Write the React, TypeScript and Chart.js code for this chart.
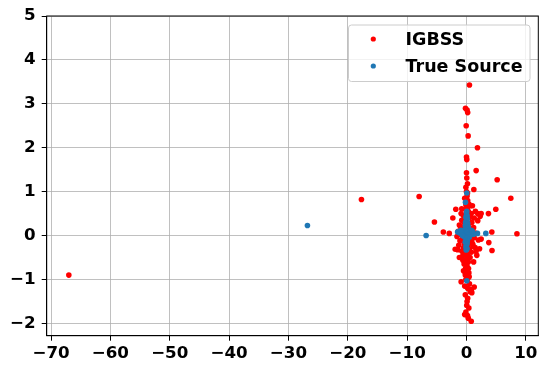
import React, { useEffect, useRef } from "react";
import { Chart, registerables } from "chart.js";

Chart.register(...registerables);

const seriesLabels = ["IGBSS", "True Source"];
const seriesColors = ["#ff0000", "#1f77b4"];

const xTicks = [-70, -60, -50, -40, -30, -20, -10, 0, 10];
const yTicks = [-2, -1, 0, 1, 2, 3, 4, 5];

const igbssPoints: [number, number][] = [
  [-67, -0.9], [-17.7, 0.82], [-7.98, 0.89], [7.47, 0.85], [5.17, 1.27], [8.5, 0.04],
  [4.94, 0.6], [3.7, 0.5], [-5.4, 0.31], [-3.9, 0.08], [-2.9, 0.05], [4.27, 0.08],
  [3.76, -0.16], [4.3, -0.34], [2.47, -0.08], [2.47, 0.5], [2.3, 0.44], [1.9, 0.34],
  [1.74, -0.45], [-1.9, -0.31], [-1.2, 0.24], [-0.8, 0.61], [1.0, 0.68], [0.62, 0.68],
  [0.5, 3.43], [-0.17, 2.9], [0.1, 2.86], [0.2, 2.8], [-0.05, 2.5], [0.28, 2.27],
  [1.85, 2.0], [0, 1.79], [0.05, 1.73], [1.63, 1.48], [0, 1.43], [0.05, 1.31],
  [0.17, 1.18], [1.24, 1.05], [0.17, 0.97],
  [-0.6, -0.56], [0.34, -0.75], [-0.9, -1.05], [1.3, -1.17], [0.6, -1.28], [0.2, -1.43],
  [0.05, -1.59], [-0.1, -1.74], [0.17, -1.82], [0.8, -1.95],
  [1.07, -0.2], [1.46, -0.27], [-0.17, -0.86], [0.45, -0.94], [0.84, -1.23],
  [-0.3, 0.85], [0.2, 0.8], [0.4, 0.72], [-0.2, 0.6], [0.3, 0.55], [-0.5, 0.45],
  [0.6, 0.42], [-0.8, 0.35], [0.9, 0.3], [-0.4, 0.3], [0.4, 0.25], [-1.0, 0.2],
  [1.2, 0.18], [-0.6, 0.15], [0.7, 0.12], [-1.4, 0.1], [1.5, 0.06], [-0.9, 0.02],
  [1.0, 0.0], [-1.6, -0.02], [1.3, -0.05], [-0.7, -0.08], [0.6, -0.1], [-1.1, -0.12],
  [0.9, -0.15], [-0.4, -0.18], [0.3, -0.2], [-1.3, -0.22], [1.1, -0.25], [-0.5, -0.28],
  [0.5, -0.3], [-0.8, -0.35], [0.8, -0.38], [-0.3, -0.4], [0.2, -0.42], [-1.5, -0.32],
  [1.6, -0.36], [-0.6, -0.45], [0.6, -0.5], [-0.2, -0.55], [0.3, -0.6], [-0.4, -0.65],
  [0.1, -0.7], [-0.5, -0.8], [0.4, -0.85], [-0.2, -0.9], [0.3, -0.95], [-0.1, -1.0],
  [0.5, -1.1], [-0.3, -1.15], [0.2, -1.2], [0.9, -1.3], [-0.2, -1.35], [0.1, -1.5],
  [0.4, -1.65], [-0.3, -1.8], [0.3, -1.88],
  [0, 0.4], [0.1, 0.5], [-0.1, 0.7], [0.2, 0.65], [0, 1.0], [-0.1, 1.1], [0.1, 0.9],
  [0, -0.3], [0.1, -0.5], [-0.1, -0.6], [0, -0.8], [0.15, -1.0], [-0.15, -0.75],
  [0.05, -0.15], [-0.05, 0.1], [0.25, -0.05], [-0.25, 0.05], [1.9, 0.5], [2.0, -0.1],
  [-2.3, 0.4], [-1.8, 0.6], [2.2, -0.3], [1.5, 0.55], [-1.2, -0.5], [1.2, -0.6],
  [-0.9, 0.5], [0.8, 0.5], [1.3, 0.4],
];

const truePoints: [number, number][] = [
  [-26.8, 0.23], [-6.8, 0.0], [0.05, 0.97], [-0.17, 0.76], [0.05, 0.55], [3.26, 0.05],
  [1.85, 0.05], [-1.5, 0.08], [-1.35, 0.09], [0.05, -1.03],
  [0, 0.5], [0.1, 0.45], [-0.1, 0.42], [0.15, 0.38], [0, 0.35], [-0.15, 0.3],
  [0.2, 0.28], [0.05, 0.25], [-0.2, 0.22], [0.3, 0.2], [-0.05, 0.18], [0.1, 0.15],
  [-0.3, 0.12], [0.4, 0.1], [0, 0.1], [-0.5, 0.08], [0.6, 0.06], [-0.8, 0.05],
  [0.9, 0.04], [-1.1, 0.06], [1.2, 0.03], [-0.2, 0.02], [0.2, 0.0], [-0.4, -0.02],
  [0.5, -0.03], [0, -0.05], [-0.1, -0.1], [0.15, -0.12], [-0.2, -0.15], [0.1, -0.18],
  [0, -0.22], [-0.1, -0.26], [0.1, -0.3], [-0.05, -0.33], [-0.7, 0.0], [0.8, 0.12],
  [-0.9, 0.12], [1.0, 0.1],
];

const FONT = "'DejaVu Sans', sans-serif";
const fmt = (v: number) => (v < 0 ? "\u2212" + Math.abs(v) : String(v));

const framePlugin = {
  id: "frame",
  afterDraw(chart: any) {
    const { ctx, chartArea: a } = chart;
    ctx.save();
    ctx.strokeStyle = "#000";
    ctx.lineWidth = 1;
    ctx.strokeRect(a.left, a.top, a.right - a.left, a.bottom - a.top);

    // legend
    const bx = 348.5, by = 25, bw = 181.5, bh = 56.5, r = 3;
    ctx.globalAlpha = 0.8;
    ctx.fillStyle = "#fff";
    ctx.beginPath();
    ctx.roundRect(bx, by, bw, bh, r);
    ctx.fill();
    ctx.globalAlpha = 1;
    ctx.strokeStyle = "#cccccc";
    ctx.lineWidth = 1;
    ctx.stroke();
    const rows = [39, 66];
    ctx.font = `bold 17.5px ${FONT}`;
    ctx.textBaseline = "middle";
    ctx.textAlign = "left";
    rows.forEach((ry, i) => {
      ctx.fillStyle = seriesColors[i];
      ctx.beginPath();
      ctx.arc(373.3, ry, 2.6, 0, Math.PI * 2);
      ctx.fill();
      ctx.fillStyle = "#000";
      ctx.fillText(seriesLabels[i], 405.5, ry + 1);
    });
    ctx.restore();
  },
};

export default function App() {
  const ref = useRef<HTMLCanvasElement>(null);
  useEffect(() => {
    if (!ref.current) return;
    const tickFont = { family: FONT, size: 16.7, weight: "bold" as const };
    const chart = new Chart(ref.current, {
      type: "scatter",
      data: {
        datasets: [
          {
            label: seriesLabels[0],
            data: igbssPoints.map(([x, y]) => ({ x, y })),
            backgroundColor: seriesColors[0],
            borderWidth: 0,
            pointRadius: 2.8,
            order: 1,
          },
          {
            label: seriesLabels[1],
            data: truePoints.map(([x, y]) => ({ x, y })),
            backgroundColor: seriesColors[1],
            borderWidth: 0,
            pointRadius: 2.8,
            order: 0,
          },
        ],
      },
      options: {
        animation: false,
        responsive: true,
        maintainAspectRatio: false,
        layout: { autoPadding: false, padding: { top: 16, right: 0.7, left: 0, bottom: 0 } },
        plugins: { legend: { display: false }, tooltip: { enabled: false } },
        scales: {
          x: {
            type: "linear",
            min: -70.73,
            max: 12.1,
            afterBuildTicks: (s: any) => {
              s.ticks = xTicks.map((v) => ({ value: v }));
            },
            afterFit: (s: any) => {
              s.height = 32.3;
              s.paddingLeft = 0;
              s.paddingRight = 0;
            },
            grid: { color: "#b0b0b0", lineWidth: 0.8, tickColor: "#000", tickLength: 5, tickWidth: 1 },
            border: { color: "#000", width: 1 },
            ticks: { color: "#000", font: tickFont, padding: 3, maxRotation: 0, autoSkip: false, callback: (v: any) => fmt(Number(v)) },
          },
          y: {
            type: "linear",
            min: -2.28,
            max: 5,
            afterBuildTicks: (s: any) => {
              s.ticks = yTicks.map((v) => ({ value: v }));
            },
            afterFit: (s: any) => {
              s.width = 46.7;
              s.paddingTop = 0;
              s.paddingBottom = 0;
            },
            grid: { color: "#b0b0b0", lineWidth: 0.8, tickColor: "#000", tickLength: 5, tickWidth: 1 },
            border: { color: "#000", width: 1 },
            ticks: { color: "#000", font: tickFont, padding: 6, autoSkip: false, callback: (v: any) => fmt(Number(v)) },
          },
        },
      },
      plugins: [framePlugin],
    });
    return () => chart.destroy();
  }, []);
  return (
    <div style={{ position: "fixed", left: 0, top: 0, width: 539, height: 368, background: "#fff" }}>
      <canvas ref={ref} />
    </div>
  );
}
